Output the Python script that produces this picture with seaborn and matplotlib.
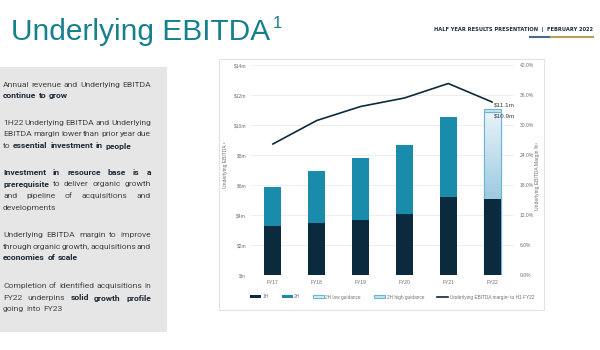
import numpy as np
import pandas as pd
import matplotlib
matplotlib.use("Agg")
import matplotlib.pyplot as plt
import seaborn as sns
from matplotlib.patches import Rectangle, Patch
from matplotlib.lines import Line2D
from matplotlib.colors import LinearSegmentedColormap

# ---------------- data ----------------
years = ["FY17", "FY18", "FY19", "FY20", "FY21", "FY22"]
ebitda_1h = [3.24, 3.47, 3.67, 4.10, 5.22, 5.09]          # $m
ebitda_2h = [2.66, 3.46, 4.13, 4.59, 5.33, 0.0]           # $m
guidance_2h_low = [0, 0, 0, 0, 0, 5.81]                    # $m
guidance_2h_high = [0, 0, 0, 0, 0, 6.01]                   # $m
margin_pct = [26.2, 30.9, 33.7, 35.4, 38.3, 34.6]          # %
left_ticks = [0, 2, 4, 6, 8, 10, 12, 14]
left_tick_labels = ["$m", "$2m", "$4m", "$6m", "$8m", "$10m", "$12m", "$14m"]
right_ticks = [0, 6, 12, 18, 24, 30, 36, 42]
right_tick_labels = ["0.0%", "6.0%", "12.0%", "18.0%", "24.0%", "30.0%", "36.0%", "42.0%"]
guidance_labels = ["$11.1m", "$10.9m"]
legend_labels = ["1H", "2H", "2H low guidance", "2H high guidance",
                 "Underlying EBITDA margin\u00b9 to H1 FY22"]

C_1H = "#0b2a3e"
C_2H = "#1a8cab"
C_EDGE_G = "#67b6d6"
C_HIGH = "#c9e3ef"
C_LINE = "#0b2a3e"
C_TICK = "#6f6f6f"
CF = "Liberation Sans"

W, H = 600, 350
fig = plt.figure(figsize=(6, 3.5), dpi=100)
fig.patch.set_facecolor("white")

def fx(px):
    return px / W

def fy(py):
    return 1 - py / H

# ---------------- decorations ----------------
fig.add_artist(Rectangle((0, fy(332)), fx(167), (332 - 67) / H,
                         transform=fig.transFigure, fc="#e7e6e6", ec="none", zorder=0))
fig.add_artist(Rectangle((fx(219), fy(310)), fx(544 - 219), (310 - 59) / H,
                         transform=fig.transFigure, fill=False, ec="#e2e2e2", lw=0.8, zorder=0))

# ---------------- chart ----------------
df = pd.DataFrame({"year": years, "h1": ebitda_1h, "h2": ebitda_2h,
                   "glow": guidance_2h_low, "ghigh": guidance_2h_high})
df["total"] = df["h1"] + df["h2"]
df["low_total"] = df["h1"] + df["glow"]
df["high_total"] = df["h1"] + df["ghigh"]

ax = fig.add_axes([fx(251), fy(275), fx(514 - 251), 210 / H])
bw = 0.39
guide = df[df["ghigh"] > 0]
actual = df[df["h2"] > 0]

sns.barplot(data=guide, x="year", y="high_total", order=years, color=C_HIGH,
            saturation=1, width=bw, edgecolor=C_EDGE_G, linewidth=0.8, ax=ax, zorder=2)
n_before = len(ax.patches)
sns.barplot(data=guide, x="year", y="low_total", order=years, color="#dcebf3",
            saturation=1, width=bw, edgecolor=C_EDGE_G, linewidth=0.8, ax=ax, zorder=3)
low_patches = [p for p in ax.patches[n_before:] if p.get_height() > 0]
sns.barplot(data=actual, x="year", y="total", order=years, color=C_2H,
            saturation=1, width=bw, edgecolor="none", ax=ax, zorder=3)
sns.barplot(data=df, x="year", y="h1", order=years, color=C_1H,
            saturation=1, width=bw, edgecolor="none", ax=ax, zorder=4)

# gradient fill for guidance bar
cmap = LinearSegmentedColormap.from_list("g", ["#9ccae0", "#eaf3f8"])
grad = np.linspace(0, 1, 256).reshape(-1, 1)
for p, (_, row) in zip(low_patches, guide.iterrows()):
    x0 = p.get_x()
    im = ax.imshow(grad, extent=[x0, x0 + p.get_width(), row["h1"], row["low_total"]],
                   aspect="auto", cmap=cmap, origin="lower", zorder=3.5)
    im.set_clip_path(p)
    p.set_facecolor("none")
    p.set_zorder(3.6)

ax.set_xlim(-0.5, 5.5)
ax.set_ylim(0, 14)
ax.set_yticks(left_ticks)
ax.set_yticklabels(left_tick_labels, family=CF)
ax.set_xticks(range(len(years)))
ax.set_xticklabels(years, family=CF)
ax.set_xlabel("")
ax.set_ylabel("")
ax.yaxis.grid(True, color="#ebebeb", lw=0.6, zorder=0)
ax.set_axisbelow(True)
for s in ax.spines.values():
    s.set_visible(False)
ax.tick_params(axis="both", length=0, labelsize=3.6, colors=C_TICK)
ax.tick_params(axis="y", pad=3.5)
ax.tick_params(axis="x", pad=3.5)

# guidance annotations
gi = years.index("FY22")
ax.annotate(guidance_labels[0], (gi, guide["high_total"].iloc[0]), xytext=(1, 0.5),
            textcoords="offset points", fontsize=4.6, color="#404040", va="bottom", ha="left",
            zorder=6, family=CF)
ax.annotate(guidance_labels[1], (gi, guide["low_total"].iloc[0]), xytext=(1, -1.5),
            textcoords="offset points", fontsize=4.6, color="#404040", va="top", ha="left",
            zorder=6, family=CF)

ax2 = ax.twinx()
sns.lineplot(x=np.arange(len(years)), y=margin_pct, color=C_LINE, lw=1.2, ax=ax2, zorder=5)
ax2.set_ylim(0, 42)
ax2.set_yticks(right_ticks)
ax2.set_yticklabels(right_tick_labels, family=CF)
ax2.set_xlim(-0.5, 5.5)
for s in ax2.spines.values():
    s.set_visible(False)
ax2.tick_params(axis="y", length=0, labelsize=3.6, colors=C_TICK, pad=4)

fig.text(fx(225), fy(165), "Underlying EBITDA \u00b9", rotation=90, ha="center", va="center",
         fontsize=3.6, color=C_TICK, family=CF)
fig.text(fx(538), fy(176), "Underlying EBITDA Margin %\u00b9", rotation=90, ha="center",
         va="center", fontsize=3.6, color=C_TICK, family=CF)

handles = [Patch(fc=C_1H, ec="none"), Patch(fc=C_2H, ec="none"),
           Patch(fc="#dcebf3", ec=C_EDGE_G, lw=0.8), Patch(fc=C_HIGH, ec=C_EDGE_G, lw=0.8),
           Line2D([0], [0], color=C_LINE, lw=1.2)]
leg = fig.legend(handles, legend_labels, loc="center", bbox_to_anchor=(fx(392), fy(297)),
                 ncol=5, frameon=False, prop={"family": CF, "size": 3.4},
                 handlelength=2.3, handleheight=0.6,
                 columnspacing=2.8, handletextpad=0.3, labelcolor=C_TICK)

# ---------------- title / header ----------------
title = fig.text(fx(11), fy(40), "Underlying EBITDA", fontsize=21.5, color="#17808f",
                 family="Liberation Sans", ha="left", va="baseline")
renderer = fig.canvas.get_renderer()
tb = title.get_window_extent(renderer)
fig.text((tb.x1 + 3) / W, fy(28), "1", fontsize=12, color="#17808f",
         family="Liberation Sans", ha="left", va="baseline")

fig.text(fx(593), fy(30), "HALF YEAR RESULTS PRESENTATION  |  FEBRUARY 2022", ha="right",
         va="center", fontsize=3.7, weight="bold", color="#1f2d3d")
fig.add_artist(Line2D([fx(530), fx(551)], [fy(37)] * 2, lw=1.5, color="#47698a",
                      transform=fig.transFigure))
fig.add_artist(Line2D([fx(551), fx(593)], [fy(37)] * 2, lw=1.5, color="#b5a257",
                      transform=fig.transFigure))

# ---------------- left panel text ----------------
panel = [
    [(85, [("Annual revenue and Underlying EBITDA", False)], True),
     (96, [("continue to grow", True)], False)],
    [(123, [("1H22 Underlying EBITDA and Underlying", False)], True),
     (134, [("EBITDA margin lower than prior year due", False)], True),
     (146, [("to", False), ("essential investment in people", True)], False)],
    [(173, [("Investment in resource base is a", True)], True),
     (184, [("prerequisite", True), ("to deliver organic growth", False)], True),
     (196, [("and pipeline of acquisitions and", False)], True),
     (208, [("developments", False)], False)],
    [(235, [("Underlying EBITDA margin to improve", False)], True),
     (247, [("through organic growth, acquisitions and", False)], True),
     (258, [("economies of scale", True)], False)],
    [(286, [("Completion of identified acquisitions in", False)], True),
     (298, [("FY22 underpins", False), ("solid growth profile", True)], True),
     (309, [("going into FY23", False)], False)],
]
PX0, PX1 = 3, 151
PFS = 6.1
PFONT = "Roboto"
space_px = 0.3 * PFS * 100 / 72
for para in panel:
    for (py, segs, justify) in para:
        words = []
        for txt, bold in segs:
            for w in txt.split():
                words.append((w, bold))
        objs = []
        widths = []
        for w, bold in words:
            t = fig.text(0, fy(py), w, fontsize=PFS, ha="left", va="center",
                         weight="bold" if bold else "normal",
                         color="#1c2a38" if bold else "#444444", family=PFONT)
            objs.append(t)
            widths.append(t.get_window_extent(renderer).width)
        if justify and len(words) > 1:
            gap = (PX1 - PX0 - sum(widths)) / (len(words) - 1)
        else:
            gap = space_px
        x = PX0
        for t, wd in zip(objs, widths):
            t.set_x(fx(x))
            x += wd + gap

fig.savefig("out.png", dpi=100, facecolor="white")
